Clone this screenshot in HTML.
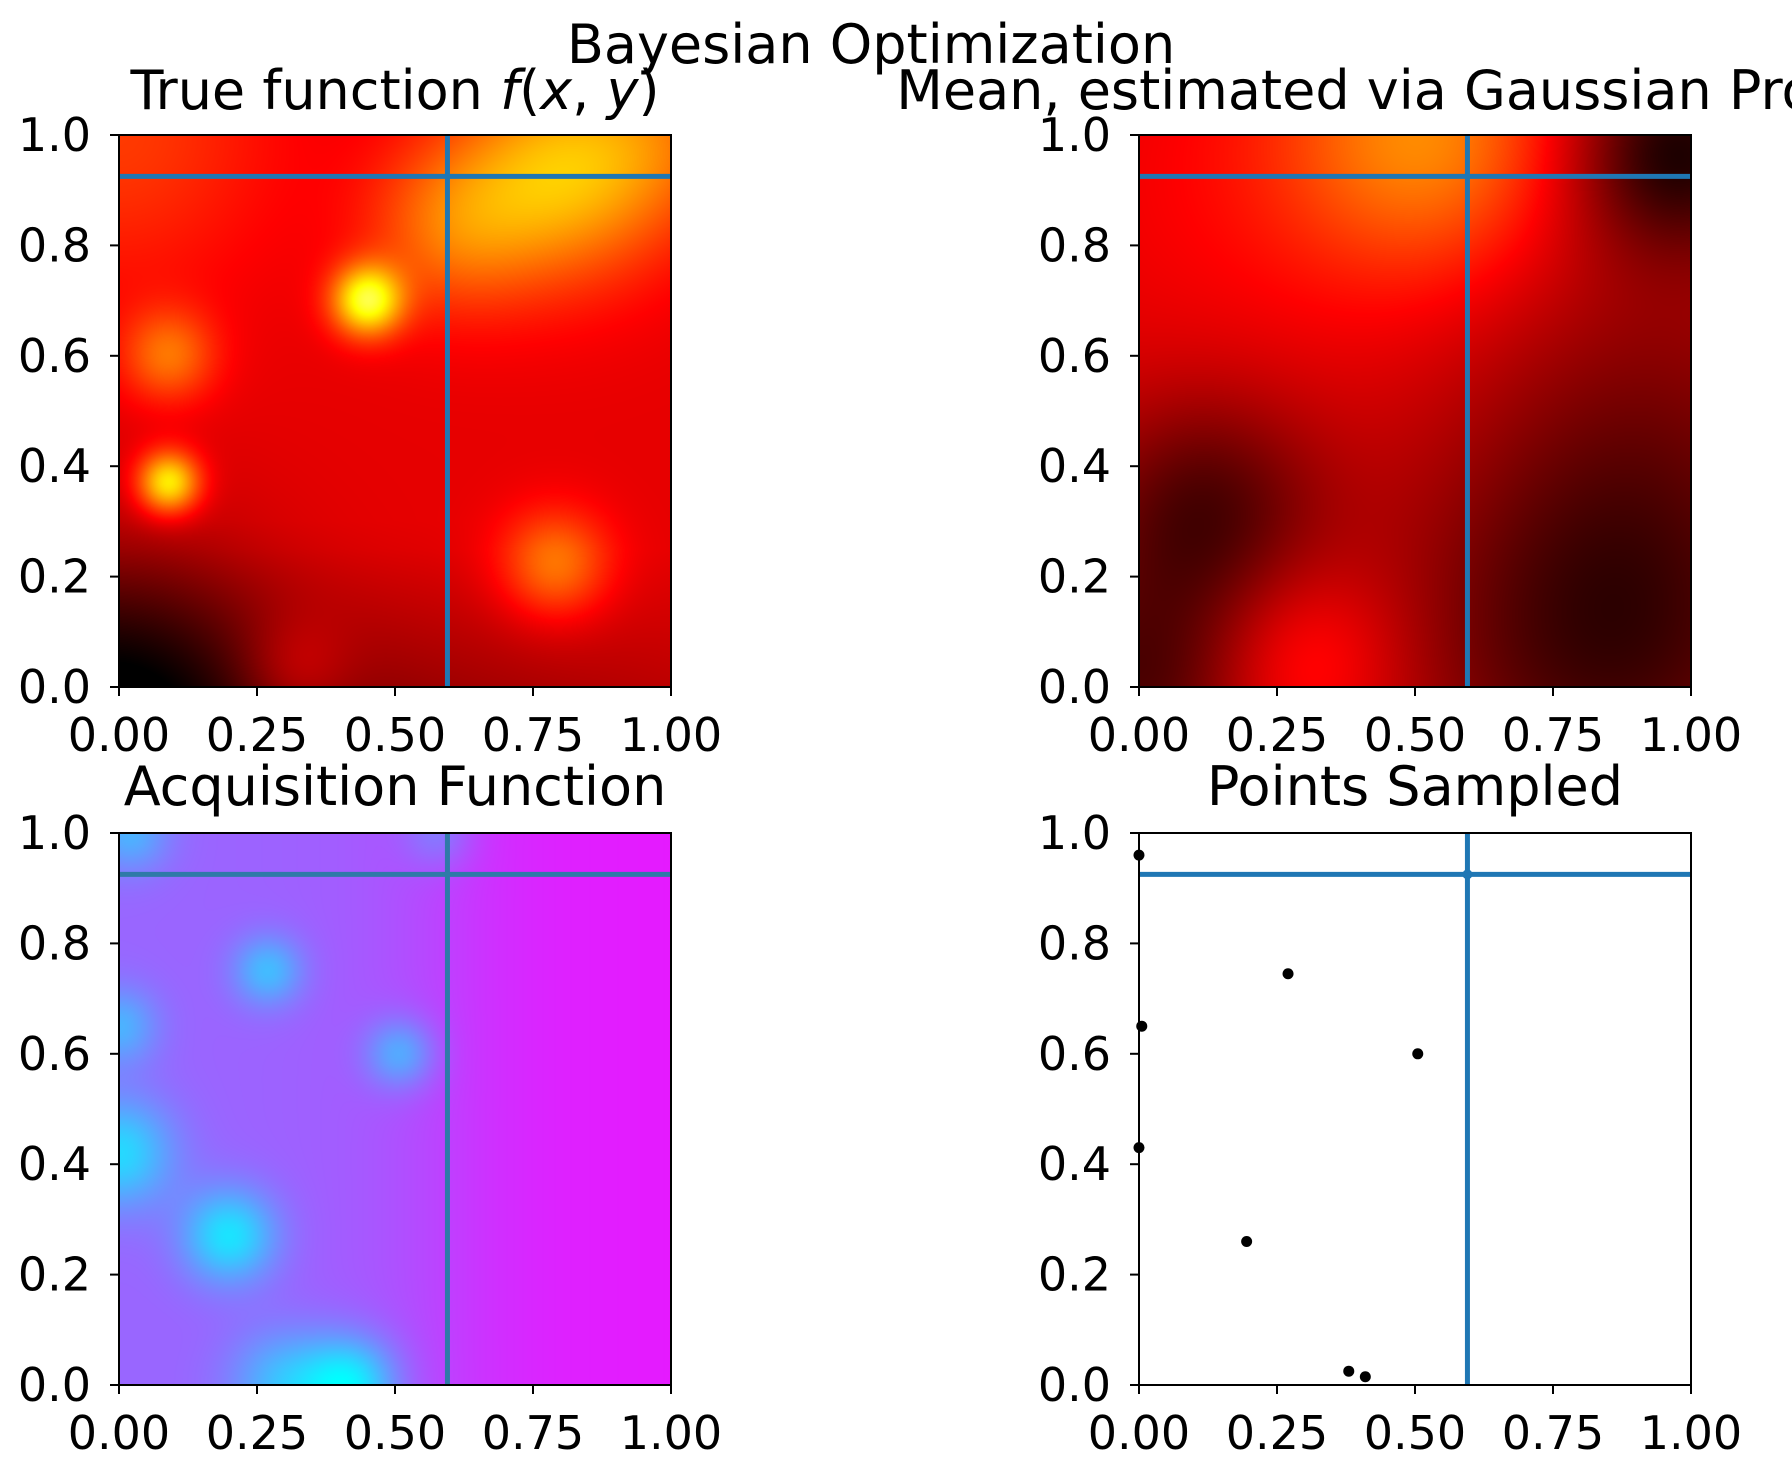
<!DOCTYPE html>
<html><head><meta charset="utf-8">
<style>
html,body{margin:0;padding:0;background:#fff;width:1792px;height:1468px;overflow:hidden;position:relative}
canvas{position:absolute}
svg{position:absolute;left:0;top:0}
text{font-family:"DejaVu Sans","Liberation Sans",sans-serif;fill:#000}
</style></head>
<body>
<canvas id="c1" width="552" height="552" style="left:119px;top:135px"></canvas>
<canvas id="c2" width="552" height="552" style="left:1139px;top:135px"></canvas>
<canvas id="c3" width="552" height="552" style="left:119px;top:833px"></canvas>
<svg id="svg" width="1792" height="1468"></svg>
<script>
// ---- data ----
const xTicks = [0, 0.25, 0.5, 0.75, 1.0];
const xTickLabels = ["0.00","0.25","0.50","0.75","1.00"];
const yTicks = [0, 0.2, 0.4, 0.6, 0.8, 1.0];
const yTickLabels = ["0.0","0.2","0.4","0.6","0.8","1.0"];
const crossX = 0.595;
const crossY = 0.925;
// true function bumps: x, y, amplitude, width
const trueBumpX = [0.45, 0.09, 0.09, 0.79, 0.32, 0.80, 0.60, 0.0, 1.0];
const trueBumpY = [0.70, 0.60, 0.37, 0.22, 0.03, 0.93, 0.83, 1.0, 1.0];
const trueBumpA = [0.45, 0.20, 0.42, 0.22, 0.10, 0.30, 0.17, 0.12, 0.12];
const trueBumpW = [0.045, 0.06, 0.04, 0.07, 0.07, 0.14, 0.11, 0.2, 0.12];
// GP mean bumps
const gpBumpX = [0.52, 0.20, 0.30, 0.97, 0.12, 0.85, 0.0, 0.92];
const gpBumpY = [1.00, 0.90, 0.05, 0.97, 0.32, 0.10, 0.0, 0.5];
const gpBumpA = [0.24, 0.06, 0.12, -0.26, -0.20, -0.22, -0.18, -0.08];
const gpBumpW = [0.18, 0.30, 0.12, 0.13, 0.15, 0.25, 0.15, 0.22];
// acquisition minima (cyan spots)
const acqBumpX = [0.27, 0.51, 0.20, 0.42, 0.0, 0.0, 0.02, 0.58, 0.30];
const acqBumpY = [0.75, 0.60, 0.27, 0.0, 0.42, 0.65, 1.0, 1.0, 0.0];
const acqBumpA = [0.35, 0.35, 0.50, 0.55, 0.45, 0.30, 0.30, 0.2, 0.35];
const acqBumpW = [0.045, 0.045, 0.06, 0.06, 0.07, 0.05, 0.05, 0.045, 0.07];
// sampled points
const ptsX = [0.0, 0.005, 0.0, 0.27, 0.505, 0.195, 0.38, 0.41];
const ptsY = [0.96, 0.65, 0.43, 0.745, 0.60, 0.26, 0.025, 0.015];

function bumps(x,y,X,Y,A,W){let s=0;for(let i=0;i<X.length;i++){const d=(x-X[i])**2+(y-Y[i])**2;s+=A[i]*Math.exp(-d/(2*W[i]*W[i]));}return s;}
const cl=v=>Math.max(0,Math.min(1,v));
function hot(v){return [cl(v/0.365),cl((v-0.365)/0.381),cl((v-0.746)/0.254)];}
function cool(v){return [v,1-v,1];}
function paint(id,fn,cmap){
  const c=document.getElementById(id),ctx=c.getContext('2d'),N=552;
  const img=ctx.createImageData(N,N);
  for(let j=0;j<N;j++){const y=1-(j+0.5)/N;for(let i=0;i<N;i++){const x=(i+0.5)/N;
    const col=cmap(cl(fn(x,y)));const k=(j*N+i)*4;
    img.data[k]=col[0]*255;img.data[k+1]=col[1]*255;img.data[k+2]=col[2]*255;img.data[k+3]=255;}}
  ctx.putImageData(img,0,0);
}
paint('c1',(x,y)=>{const base=0.33-0.2*Math.exp(-((x)**2+(y)**2)/(2*0.2*0.2))-0.1*Math.max(0,0.3-y)/0.3*(1-x)-0.06*Math.max(0,0.25-y)/0.25;
  return base+bumps(x,y,trueBumpX,trueBumpY,trueBumpA,trueBumpW);},hot);
paint('c2',(x,y)=>{return 0.3+bumps(x,y,gpBumpX,gpBumpY,gpBumpA,gpBumpW);},hot);
paint('c3',(x,y)=>{const side=0.6+0.27/(1+Math.exp(-(x-0.6)/0.09))+0.03*x;
  return side-bumps(x,y,acqBumpX,acqBumpY,acqBumpA,acqBumpW);},cool);

const NS='http://www.w3.org/2000/svg',svg=document.getElementById('svg');
function el(tag,attrs,parent){const e=document.createElementNS(NS,tag);for(const k in attrs)e.setAttribute(k,attrs[k]);(parent||svg).appendChild(e);return e;}
const axes=[{l:119,t:135,name:'true-function'},{l:1139,t:135,name:'gp-mean'},{l:119,t:833,name:'acquisition'},{l:1139,t:833,name:'points-sampled'}];
const S=552;
axes.forEach((a,ai)=>{
  const g=el('g',{});
  
  
  const sx=v=>a.l+v*S, sy=v=>a.t+S-v*S;
  if(ai===3){
    ptsX.forEach((px,i)=>{const c=el('circle',{cx:sx(px),cy:sy(ptsY[i]),r:5.5,fill:'#000'},g);
      
      });
  }
  const col = ai===2 ? '#2f7aa8' : '#1f77b4';
  const v=el('line',{x1:sx(crossX),x2:sx(crossX),y1:a.t,y2:a.t+S,stroke:col,'stroke-width':5},g);
  
  
  const h=el('line',{x1:a.l,x2:a.l+S,y1:sy(crossY),y2:sy(crossY),stroke:col,'stroke-width':5},g);
  
  
  if(ai===3){const m=el('circle',{cx:sx(crossX),cy:sy(crossY),r:5,fill:col},g);
    
    }
  el('rect',{x:a.l,y:a.t,width:S,height:S,fill:'none',stroke:'#000','stroke-width':2},g);
  xTicks.forEach((t,i)=>{el('line',{x1:sx(t),x2:sx(t),y1:a.t+S,y2:a.t+S+9,stroke:'#000','stroke-width':2},g);
    const tx=el('text',{x:sx(t),y:a.t+S+64,'text-anchor':'middle','font-size':46},g);tx.textContent=xTickLabels[i];
    
    });
  yTicks.forEach((t,i)=>{el('line',{x1:a.l-9,x2:a.l,y1:sy(t),y2:sy(t),stroke:'#000','stroke-width':2},g);
    const tx=el('text',{x:a.l-28,y:sy(t)+16,'text-anchor':'end','font-size':46},g);tx.textContent=yTickLabels[i];
    
    });
});
function title(x,y,html,name){const t=el('text',{x:x,y:y,'text-anchor':'middle','font-size':54});t.innerHTML=html;
  
  }
title(871,63,'Bayesian Optimization','figure-title');
title(395,109,'True function <tspan font-style="italic">f</tspan>(<tspan font-style="italic">x</tspan>, <tspan font-style="italic">y</tspan>)','true-function-title');
title(1415,109,'Mean, estimated via Gaussian Process','gp-mean-title');
title(395,805,'Acquisition Function','acquisition-title');
title(1415,805,'Points Sampled','points-sampled-title');
</script>
</body></html>
